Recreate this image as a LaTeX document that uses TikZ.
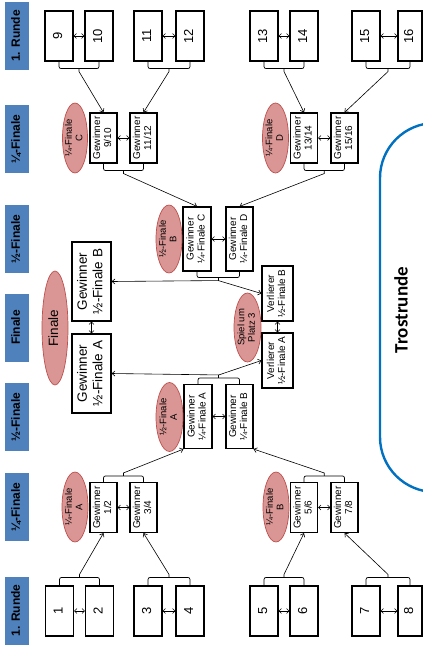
\documentclass[tikz,border=0pt]{standalone}
\usepackage{fontspec}
\setmainfont{Liberation Sans}
\newfontfamily\carlito{Carlito}
\usepackage{graphicx}
\usetikzlibrary{shapes.geometric,arrows.meta,calc}
\definecolor{labblue}{HTML}{4F81BD}
\definecolor{ellfill}{HTML}{D99694}
\definecolor{elldraw}{HTML}{C0504D}
\definecolor{trostblue}{HTML}{0070C0}
\newcommand{\rtxt}[1]{\rotatebox{90}{\begin{tabular}{@{}c@{}}#1\end{tabular}}}
\begin{document}
\begin{tikzpicture}[x=1pt,y=-1pt,
  box/.style={draw, line width=1.1pt, fill=white, inner sep=0pt},
  rbox/.style={box, minimum width=28pt, minimum height=50pt, font=\fontsize{13}{15}\selectfont},
  qbox/.style={box, minimum width=27pt, minimum height=50pt, font=\fontsize{10}{11}\selectfont},
  sbox/.style={box, minimum width=28pt, minimum height=64pt, font=\fontsize{10}{11}\selectfont},
  fbox/.style={box, minimum width=39pt, minimum height=79pt, font=\fontsize{13.5}{15.5}\selectfont},
  vbox/.style={box, minimum width=31pt, minimum height=55pt, font=\fontsize{10}{11}\selectfont},
  ell/.style={ellipse, draw=elldraw, fill=ellfill, line width=0.7pt, inner sep=0pt},
  etxt/.style={inner sep=0pt, font=\fontsize{9.5}{10.5}\selectfont},
  lab/.style={fill=labblue, inner sep=0pt, minimum width=24pt, minimum height=68pt, font=\bfseries\fontsize{12}{14}\selectfont},
  conn/.style={line width=0.6pt, -{Straight Barb[length=3pt,width=5pt]}},
  line/.style={line width=0.6pt},
  dbl/.style={line width=0.6pt, {Straight Barb[length=2.5pt,width=5pt]}-{Straight Barb[length=2.5pt,width=5pt]}},
  brk/.style={line width=0.7pt, rounded corners=2pt},
]
\useasboundingbox (0,0) rectangle (423,646);
\clip (0,0) rectangle (423,646);

% stage labels
\node[lab] (l1) at (17,36) {\rtxt{1. Runde}};
\node[lab] (l2) at (17,139) {\rtxt{¼-Finale}};
\node[lab] (l3) at (17,239) {\rtxt{½-Finale}};
\node[lab] (l4) at (17,327.5) {\rtxt{Finale}};
\node[lab] (l5) at (17,417) {\rtxt{½-Finale}};
\node[lab] (l6) at (17,507) {\rtxt{¼-Finale}};
\node[lab] (l7) at (17,610.5) {\rtxt{1. Runde}};

% round 1, top
\node[rbox] (r9) at (59,36) {\rtxt{9}};
\node[rbox] (r10) at (99,36) {\rtxt{10}};
\node[rbox] (r11) at (148,36) {\rtxt{11}};
\node[rbox] (r12) at (190,36) {\rtxt{12}};
\node[rbox] (r13) at (264,36) {\rtxt{13}};
\node[rbox] (r14) at (304,36) {\rtxt{14}};
\node[rbox] (r15) at (366,36) {\rtxt{15}};
\node[rbox, minimum width=24pt] (r16) at (410,36) {\rtxt{16}};
% round 1, bottom
\node[rbox] (r1) at (59.5,611) {\rtxt{1}};
\node[rbox] (r2) at (99.5,611) {\rtxt{2}};
\node[rbox] (r3) at (148,611) {\rtxt{3}};
\node[rbox] (r4) at (190,611) {\rtxt{4}};
\node[rbox] (r5) at (264,611) {\rtxt{5}};
\node[rbox] (r6) at (304,611) {\rtxt{6}};
\node[rbox] (r7) at (366,611) {\rtxt{7}};
\node[rbox, minimum width=24pt] (r8) at (410,611) {\rtxt{8}};

\foreach \a/\b in {r9/r10,r11/r12,r13/r14,r15/r16,r1/r2,r3/r4,r5/r6,r7/r8}
  \draw[dbl] (\a) -- (\b);

% quarter finals, top
\node[qbox] (q910) at (103.5,138) {\rtxt{Gewinner\\9/10}};
\node[qbox] (q1112) at (143.5,138) {\rtxt{Gewinner\\11/12}};
\node[qbox] (q1314) at (304,138) {\rtxt{Gewinner\\13/14}};
\node[qbox] (q1516) at (344.5,138) {\rtxt{Gewinner\\15/16}};
\node[ell, minimum width=25pt, minimum height=70pt] (eC) at (75,138) {};
\node[etxt] (eCt) at (eC) {\rtxt{¼-Finale\\C}};
\node[ell, minimum width=26pt, minimum height=70pt] (eD) at (275.5,138) {};
\node[etxt] (eDt) at (eD) {\rtxt{¼-Finale\\D}};
% quarter finals, bottom
\node[qbox] (q12) at (103.5,507.5) {\rtxt{Gewinner\\1/2}};
\node[qbox] (q34) at (143.5,507.5) {\rtxt{Gewinner\\3/4}};
\node[qbox] (q56) at (304,507.5) {\rtxt{Gewinner\\5/6}};
\node[qbox] (q78) at (344.5,507.5) {\rtxt{Gewinner\\7/8}};
\node[ell, minimum width=26pt, minimum height=70pt] (eA) at (75,507) {};
\node[etxt] (eAt) at (eA) {\rtxt{¼-Finale\\A}};
\node[ell, minimum width=26pt, minimum height=70pt] (eB) at (276,507) {};
\node[etxt] (eBt) at (eB) {\rtxt{¼-Finale\\B}};

\foreach \a/\b in {q910/q1112,q1314/q1516,q12/q34,q56/q78}
  \draw[dbl] (\a) -- (\b);

% semi finals
\node[sbox] (sC) at (197,239) {\rtxt{Gewinner\\¼-Finale C}};
\node[sbox, minimum width=27pt] (sD) at (239.5,239) {\rtxt{Gewinner\\¼-Finale D}};
\node[ell, minimum width=26pt, minimum height=68pt] (eHB) at (169,239) {};
\node[etxt] (eHBt) at (eHB) {\rtxt{½-Finale\\B}};
\node[sbox] (sA) at (198,416.5) {\rtxt{Gewinner\\¼-Finale A}};
\node[sbox, minimum width=27pt] (sB) at (239.5,416.5) {\rtxt{Gewinner\\¼-Finale B}};
\node[ell, minimum width=27pt, minimum height=69pt] (eHA) at (169.5,417) {};
\node[etxt] (eHAt) at (eHA) {\rtxt{½-Finale\\A}};
\draw[dbl] (sC) -- (sD);
\draw[dbl] (sA) -- (sB);

% final
\node[fbox] (gB) at (91.5,281.5) {\rtxt{Gewinner\\½-Finale B}};
\node[fbox] (gA) at (91.5,373.5) {\rtxt{Gewinner\\½-Finale A}};
\node[ell, minimum width=26pt, minimum height=114pt] (eF) at (55,328) {};
\node[font=\fontsize{13.5}{15}\selectfont, inner sep=0pt] (eFt) at (eF) {\rtxt{Finale}};
\draw[dbl] (gB) -- (gA);

% third place
\node[vbox] (vB) at (277.5,293.5) {\rtxt{Verlierer\\½-Finale B}};
\node[vbox] (vA) at (277.5,360.5) {\rtxt{Verlierer\\½-Finale A}};
\node[ell, minimum width=27pt, minimum height=69pt] (eP) at (247.5,327.5) {};
\node[etxt] (ePt) at (eP) {\rtxt{Spiel um\\Platz 3}};
\draw[dbl] (vB) -- (vA);

% brackets round 1 -> quarter finals (top)
\foreach \a/\b/\t in {r9/r10/q910,r11/r12/q1112,r13/r14/q1314,r15/r16/q1516}{
  \draw[brk] (\a.south) -- ++(0,7) -| (\b.south);
  \coordinate (st-\a) at ($(\a.south)!0.5!(\b.south)+(0,7)$);
  \draw[conn] (st-\a) -- ++(0,3) -- (\t.north);
}
% brackets round 1 -> quarter finals (bottom)
\foreach \a/\b/\t in {r1/r2/q12,r3/r4/q34,r5/r6/q56,r7/r8/q78}{
  \draw[brk] (\a.north) -- ++(0,-8) -| (\b.north);
  \coordinate (st-\a) at ($(\a.north)!0.5!(\b.north)+(0,-8)$);
  \draw[conn] (st-\a) -- ++(0,-3) -- (\t.south);
}

% quarter -> semi (top)
\draw[brk] (q910.south) -- ++(0,7) -| (q1112.south);
\coordinate (stq1) at ($(q910.south)!0.5!(q1112.south)+(0,7)$);
\draw[conn] (stq1) -- ++(0,3) -- (sC.north);
\draw[brk] (q1314.south) -- ++(0,7) -| (q1516.south);
\coordinate (stq2) at ($(q1314.south)!0.5!(q1516.south)+(0,7)$);
\draw[conn] (stq2) -- ++(0,3) -- (sD.north);
% quarter -> semi (bottom)
\draw[brk] (q12.north) -- ++(0,-6) -| (q34.north);
\coordinate (stq3) at ($(q12.north)!0.5!(q34.north)+(0,-6)$);
\draw[conn] (stq3) -- ++(0,-3) -- (sA.south west);
\draw[brk] (q56.north) -- ++(0,-6) -| (q78.north);
\coordinate (stq4) at ($(q56.north)!0.5!(q78.north)+(0,-6)$);
\draw[conn] (stq4) -- ++(0,-3) -- (sB.south east);

% semi -> final / third place
\draw[brk] (sC.south) -- ++(0,6) -| (sD.south);
\coordinate (sts1) at ($(sC.south)!0.5!(sD.south)+(0,6)$);
\coordinate (tps1) at ($(sts1)+(0,3)$);
\draw[line] (sts1) -- (tps1);
\draw[conn] (tps1) -- (gB.east);
\draw[conn] (tps1) -- (vB.west);
\draw[brk] (sA.north) -- ++(0,-6) -| (sB.north);
\coordinate (sts2) at ($(sA.north)!0.5!(sB.north)+(0,-6)$);
\coordinate (tps2) at ($(sts2)+(0,-3)$);
\draw[line] (sts2) -- (tps2);
\draw[conn] (tps2) -- (gA.east);
\draw[conn] (tps2) -- (vA.west);

% consolation round
\draw[trostblue, line width=2.4pt, rounded corners=55pt] (480,123) -- (380,123) -- (380,492) -- (480,492);
\node[font=\carlito\bfseries\fontsize{19}{22}\selectfont, inner sep=0pt] (trost) at (401,310) {\rotatebox{90}{Trostrunde}};
\end{tikzpicture}
\end{document}
